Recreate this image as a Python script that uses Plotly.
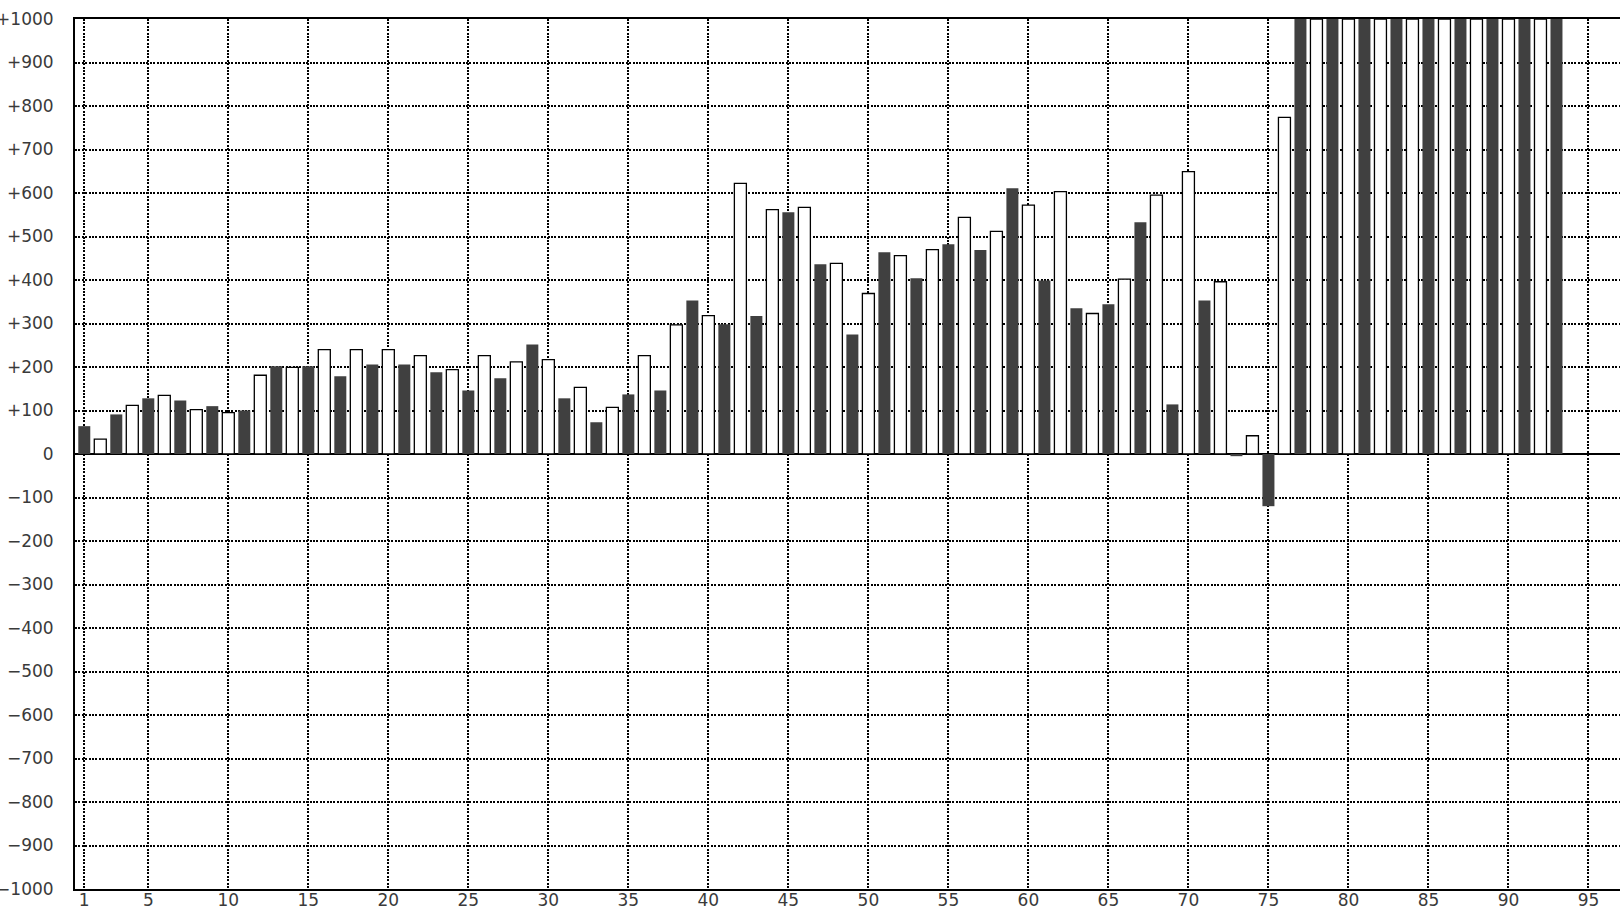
import plotly.graph_objects as go

# ---- data ----
positions = list(range(1, 94))
values = [
    64, 34, 91, 112, 128, 135, 123, 102, 110, 95,
    100, 181, 202, 199, 202, 240, 179, 240, 206, 240,
    206, 226, 188, 194, 146, 226, 174, 212, 252, 217,
    128, 153, 73, 107, 137, 226, 146, 297, 353, 318,
    298, 622, 317, 562, 556, 567, 436, 438, 275, 369,
    464, 456, 404, 470, 482, 544, 469, 512, 611, 572,
    399, 603, 335, 323, 344, 402, 533, 595, 114, 649,
    353, 396, -5, 42, -120, 774, 1000, 1000, 1000, 1000,
    1000, 1000, 1000, 1000, 1000, 1000, 1000, 1000, 1000, 1000,
    1000, 1000, 1000,
]
x_tickvals = [1, 5, 10, 15, 20, 25, 30, 35, 40, 45, 50, 55, 60, 65, 70, 75, 80, 85, 90, 95]
y_tickvals = list(range(-1000, 1001, 100))
y_ticktext = [("+" + str(v)) if v > 0 else ("0" if v == 0 else "\u2212" + str(-v)) for v in y_tickvals]

# ---- style ----
DARK = "#404040"
fill_colors = [DARK if p % 2 == 1 else "white" for p in positions]
line_colors = [DARK if p % 2 == 1 else "black" for p in positions]
line_widths = [0 if p % 2 == 1 else 1.3 for p in positions]

fig = go.Figure()
fig.add_trace(go.Bar(
    x=positions, y=values, width=0.75,
    marker=dict(color=fill_colors, line=dict(color=line_colors, width=line_widths)),
    hoverinfo="x+y",
))

tickfont = dict(family="DejaVu Sans", size=17, color="#3a3a3a")
grid_dash = "2px,1.4px"

fig.update_layout(
    width=1620, height=910,
    margin=dict(l=75, r=0, t=19, b=21, pad=0),
    plot_bgcolor="white", paper_bgcolor="white",
    showlegend=False,
    xaxis=dict(
        range=[0.42, 96.97], automargin=False,
        tickmode="array", tickvals=x_tickvals, ticktext=[str(v) for v in x_tickvals],
        showgrid=True, gridcolor="black", gridwidth=1.6, griddash=grid_dash,
        showline=True, linecolor="black", linewidth=2, mirror=True,
        zeroline=False, ticks="", tickfont=tickfont, ticklabelstandoff=-5,
        fixedrange=True,
    ),
    yaxis=dict(
        range=[-1000, 1000], automargin=False,
        tickmode="array", tickvals=y_tickvals, ticktext=y_ticktext,
        showgrid=True, gridcolor="black", gridwidth=1.6, griddash=grid_dash,
        showline=True, linecolor="black", linewidth=2, mirror=False,
        zeroline=True, zerolinecolor="black", zerolinewidth=2,
        ticks="", tickfont=tickfont, ticklabelstandoff=16,
        fixedrange=True,
    ),
)

fig.write_html(
    "out.html",
    config={"displayModeBar": False},
    post_script="document.body.style.margin='0';document.body.style.overflow='hidden';",
)
